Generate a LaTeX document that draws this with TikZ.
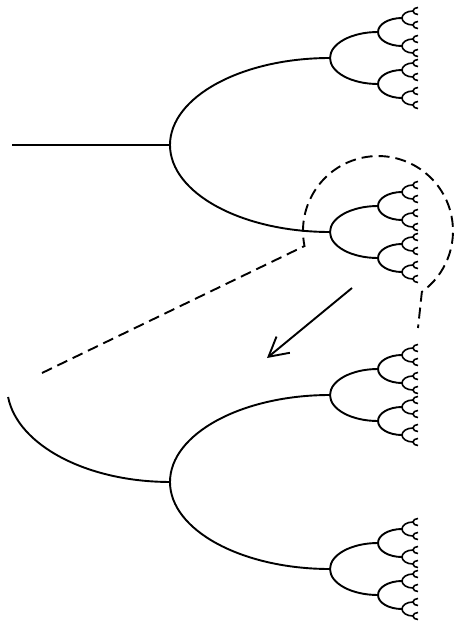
\documentclass[tikz,border=0pt]{standalone}
\usetikzlibrary{arrows.meta}
% one fork: child x, node y, width, half height
\newcommand{\fork}[5][branch]{\draw[#1] (#2,{#3-#5}) arc[start angle=90,end angle=270,x radius=#4pt,y radius=#5pt];}
\newcommand{\cayleytree}[1]{%
  \fork{330}{#1}{160}{87}
  \foreach \sa in {-1,1}{
    \pgfmathsetmacro\ya{#1+\sa*87}
    \fork{378}{\ya}{48}{26}
    \foreach \sb in {-1,1}{
      \pgfmathsetmacro\yb{\ya+\sb*26}
      \fork{402}{\yb}{24}{14}
      \foreach \sc in {-1,1}{
        \pgfmathsetmacro\yc{\yb+\sc*14}
        \fork[twig]{413}{\yc}{11}{7}
        \foreach \sd in {-1,1}{
          \pgfmathsetmacro\yd{\yc+\sd*7}
          \fork[twig]{418}{\yd}{5}{3.5}
        }}}}}
\begin{document}
\begin{tikzpicture}[x=1pt,y=-1pt,
  branch/.style={line width=1.9pt},
  twig/.style={line width=1.6pt},
  outline/.style={line width=1.9pt,dash pattern=on 11pt off 6pt}]
\useasboundingbox (0,0) rectangle (454,626);
% whole tree
\draw[branch] (12,145) -- (170,145);
\cayleytree{145}
% enlarged branch
\draw[branch] (8.1,397) arc[start angle=186.6,end angle=270,x radius=163pt,y radius=96pt];
\cayleytree{482}
% circled part
\draw[outline] (42,373) -- (304.5,246) arc[start angle=191.5,end angle=-54.2,radius=75pt] -- (418,328);
\coordinate (arrowtail) at (352,288);
\coordinate (arrowhead) at (267,358);
\draw[-{Straight Barb[length=19pt,width=21pt]},line width=1.9pt] (arrowtail) -- (arrowhead);
\end{tikzpicture}
\end{document}
